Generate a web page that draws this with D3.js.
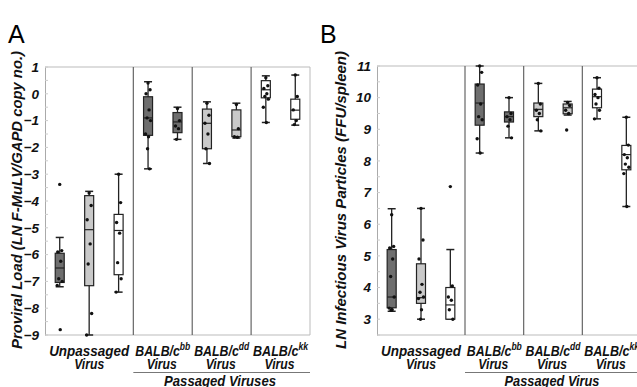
<!DOCTYPE html>
<html><head><meta charset="utf-8">
<script src="https://cdn.jsdelivr.net/npm/d3@7"></script>
<style>body{margin:0;background:#fff}svg{display:block}text{font-family:"Liberation Sans",Arial,sans-serif}</style>
</head><body><svg id="c" width="637" height="387"></svg>
<script>
// ---- data ----
const slotGroup = [0,0,0,1,1,2,2,3,3];
const slotFill = ["dark","light","white","dark","dark","light","light","white","white"];
const groupLabels = [["Unpassaged","","Virus"],["BALB/c","bb","Virus"],["BALB/c","dd","Virus"],["BALB/c","kk","Virus"]];
const aTicks = [1,0,-1,-2,-3,-4,-5,-6,-7,-8,-9];
const bTicks = [11,10,9,8,7,6,5,4,3];

const aLow  = [-7.2, -9.0, -7.4, -2.8, -1.7, -2.6, -1.65, -1.07, -1.17];
const aQ1   = [-7.04, -7.16, -6.75, -1.55, -1.45, -2.05, -1.6, -0.15, -0.95];
const aMed  = [-6.5, -5.07, -5.1, -0.9, -1.05, -1.1, -1.35, 0.15, -0.61];
const aQ3   = [-5.95, -3.8, -4.5, -0.11, -0.7, -0.57, -0.6, 0.49, -0.2];
const aHigh = [-5.36, -3.64, -3.0, 0.45, -0.5, -0.3, -0.35, 0.67, 0.7];
const aPts = [[-3.38,-5.85,-5.9,-6.25,-6.9,-7.0,-7.15,-8.8],
  [-3.7,-4.17,-4.7,-5.6,-6.35,-8.2,-9.0],
  [-3.0,-4.06,-4.8,-5.2,-6.3,-6.9,-7.4],
  [0.4,0.15,0.0,-0.6,-0.9,-1.0,-1.5,-1.6,-2.05,-2.8],
  [-0.55,-1.0,-1.2,-1.3,-1.7],
  [-0.35,-0.8,-1.1,-1.5,-2.05,-2.6],
  [-0.4,-1.3,-1.6,-1.62],
  [0.6,0.3,0.2,0.0,-0.1,-0.2,-0.5,-1.07],
  [0.7,-0.1,-0.6,-1.0,-1.15]];

const bLow  = [3.25, 3.0, 3.0, 8.25, 8.73, 8.95, 9.45, 9.33, 6.56];
const bQ1   = [3.36, 3.5, 3.0, 9.13, 9.23, 9.4, 9.49, 9.68, 7.72];
const bMed  = [3.7, 3.68, 3.45, 9.83, 9.4, 9.63, 9.68, 10.03, 8.2];
const bQ3   = [5.2, 4.75, 4.0, 10.43, 9.55, 9.83, 9.8, 10.27, 8.49];
const bHigh = [6.49, 6.5, 5.2, 11.0, 10.0, 10.45, 9.88, 10.63, 9.38];
const bPts = [[6.3,5.3,5.25,4.9,4.35,3.7,3.35,3.3,3.28],
  [6.5,5.5,4.9,4.1,3.85,3.7,3.65,3.3,3.0],
  [7.19,4.05,3.7,3.6,3.3,3.0],
  [11.0,10.8,10.4,9.8,9.4,9.3,8.7,8.25],
  [10.0,9.5,9.4,9.3,9.1,8.73],
  [10.45,9.8,9.6,9.5,9.3,8.95],
  [9.85,9.75,9.6,9.5,8.98],
  [10.63,10.3,10.1,10.0,9.8,9.6,9.33],
  [9.38,8.5,8.2,8.1,7.9,7.8,7.6,6.56]];

const fills = {dark:"#6e6e6e", light:"#c9c9c9", white:"#ffffff"};
const svg = d3.select("#c");

function lbl(g, x, y, txt, len, size){
  return g.append("text").attr("x",x).attr("y",y).attr("text-anchor","middle")
    .attr("font-size",size||14.5).attr("font-weight","bold").attr("font-style","italic").attr("fill","#111")
    .attr("textLength",len).attr("lengthAdjust","spacingAndGlyphs").text(txt);
}

function panel(o){
  const g = svg.append("g");
  const x = d3.scaleBand().domain(d3.range(9)).range([o.x0,o.x1]);
  const y = d3.scaleLinear().domain(o.domain).range([o.yb,o.yt]);
  // frame
  g.append("line").attr("x1",o.x0).attr("x2",o.x1).attr("y1",o.yt).attr("y2",o.yt).attr("stroke","#bbb");
  g.append("line").attr("x1",o.x0).attr("x2",o.x1).attr("y1",o.yb).attr("y2",o.yb).attr("stroke","#bbb");
  g.append("line").attr("x1",o.x1).attr("x2",o.x1).attr("y1",o.yt).attr("y2",o.yb).attr("stroke","#bbb");
  // separators
  [3,5,7].forEach(i=>{
    const sx = x(i);
    g.append("line").attr("x1",sx).attr("x2",sx).attr("y1",o.yt).attr("y2",o.yb).attr("stroke","#666").attr("stroke-width",1.2);
  });
  // axis
  const ax = g.append("g").attr("transform",`translate(${o.x0},0)`)
    .call(d3.axisLeft(y).tickValues(o.ticks).tickSize(0).tickPadding(6).tickFormat(d3.format("d")));
  ax.select(".domain").attr("stroke","#aaa");
  ax.selectAll("text").attr("font-size",13.5).attr("font-weight","bold").attr("font-style","italic").attr("fill","#111");
  // minor ticks
  const minor = d3.range(o.domain[0], o.domain[1]+0.001, 0.5);
  g.selectAll(".mt").data(minor).join("line").attr("x1",o.x0).attr("x2",o.x0+3)
    .attr("y1",d=>y(d)).attr("y2",d=>y(d)).attr("stroke","#ccc");
  // boxes
  const cx = i => x(i)+x.bandwidth()/2;
  const bw = 9, cap = 4;
  d3.range(9).forEach(i=>{
    const c = cx(i);
    g.append("line").attr("x1",c).attr("x2",c).attr("y1",y(o.low[i])).attr("y2",y(o.high[i])).attr("stroke","#222").attr("stroke-width",1.3);
    [o.low[i],o.high[i]].forEach(v=>g.append("line").attr("x1",c-cap).attr("x2",c+cap).attr("y1",y(v)).attr("y2",y(v)).attr("stroke","#222").attr("stroke-width",1.5));
    g.append("rect").attr("x",c-bw/2).attr("width",bw).attr("y",y(o.q3[i])).attr("height",y(o.q1[i])-y(o.q3[i]))
      .attr("fill",fills[slotFill[i]]).attr("stroke","#222").attr("stroke-width",1.2);
    g.append("line").attr("x1",c-bw/2).attr("x2",c+bw/2).attr("y1",y(o.med[i])).attr("y2",y(o.med[i])).attr("stroke","#222").attr("stroke-width",1.2);
    const off = [0,2,-2,1,-1,2.5,-2.5,0.5,-0.5,1.5];
    g.selectAll(null).data(o.pts[i]).join("circle").attr("cx",(d,k)=>c+off[k%off.length]).attr("cy",d=>y(d))
      .attr("r",1.7).attr("fill","#111");
  });
  // group labels
  const gc = [ (x(0)+x(3))/2, (x(3)+x(5))/2, (x(5)+x(7))/2, (x(7)+o.x1)/2 ];
  groupLabels.forEach((lab,gi)=>{
    if(gi===0){
      lbl(g, gc[0], 356, lab[0], 80);
      lbl(g, gc[0], 369, lab[2], 30);
    } else {
      const t = g.append("text").attr("x",gc[gi]).attr("y",356).attr("text-anchor","middle")
        .attr("font-size",14.5).attr("font-weight","bold").attr("font-style","italic").attr("fill","#111")
        .attr("textLength",55).attr("lengthAdjust","spacingAndGlyphs");
      t.append("tspan").text(lab[0]);
      t.append("tspan").attr("dy",-6).attr("font-size",10).text(lab[1]);
      lbl(g, gc[gi]-1, 369, lab[2], 30);
    }
  });
  g.append("line").attr("x1",x(3)).attr("x2",o.x1).attr("y1",372.5).attr("y2",372.5).attr("stroke","#777").attr("stroke-width",1.2);
  lbl(g, o.passX, 385.5, o.passLabel, o.passLen);
  // y label
  g.append("text").attr("transform",`translate(${o.ylx},200) rotate(-90)`).attr("text-anchor","middle")
    .attr("font-size",14.5).attr("font-weight","bold").attr("font-style","italic").attr("fill","#111")
    .attr("textLength",298).attr("lengthAdjust","spacingAndGlyphs").text(o.ylabel);
  // panel letter
  svg.append("text").attr("x",o.lx).attr("y",43).attr("font-size",25).text(o.letter);
}

panel({x0:45,x1:310,yt:67,yb:335,domain:[-9,1],ticks:aTicks,low:aLow,q1:aQ1,med:aMed,q3:aQ3,high:aHigh,pts:aPts,
  passLabel:"Passaged Viruses",passX:220,passLen:112,ylabel:"Proviral Load (LN F-MuLV/GAPD copy no.)",ylx:22,letter:"A",lx:8});
panel({x0:377,x1:641,yt:66,yb:335,domain:[2.5,11],ticks:bTicks,low:bLow,q1:bQ1,med:bMed,q3:bQ3,high:bHigh,pts:bPts,
  passLabel:"Passaged Virus",passX:552,passLen:95,ylabel:"LN Infectious Virus Particles (FFU/spleen)",ylx:346,letter:"B",lx:320});
</script></body></html>
